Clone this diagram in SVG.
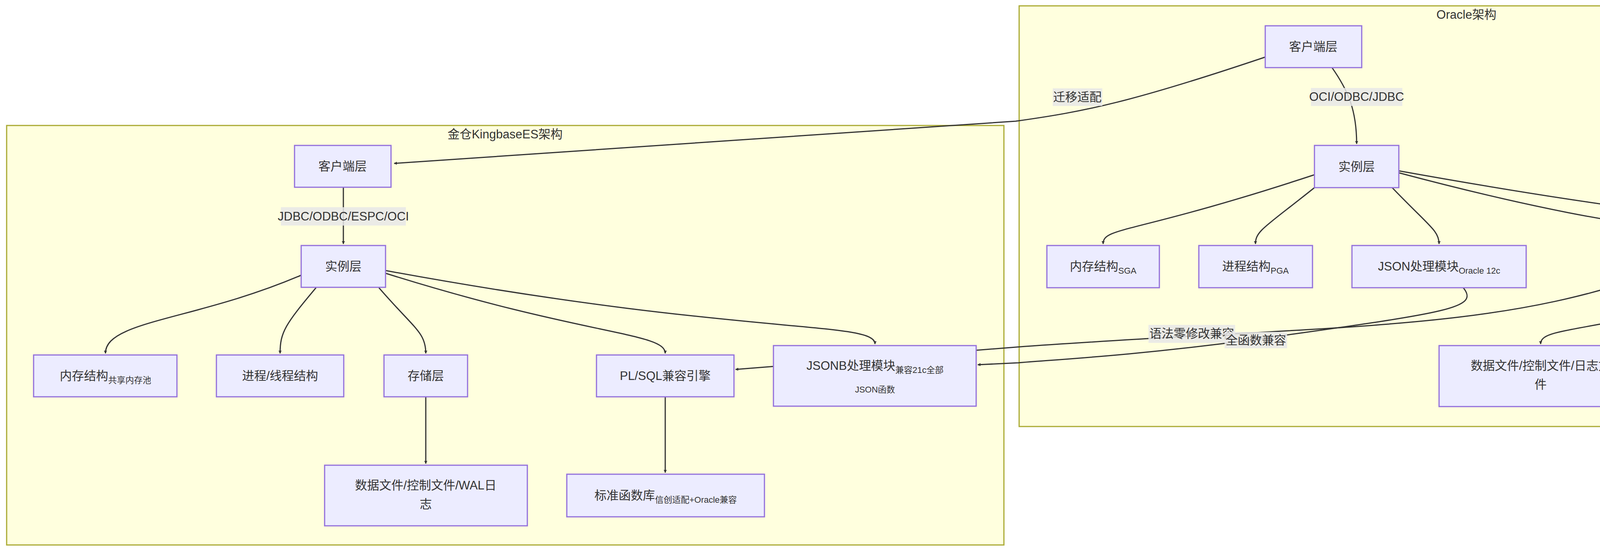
<svg xmlns="http://www.w3.org/2000/svg" width="4919" height="1412" viewBox="0 0 4919 1412">
<style>
text{font-family:"Liberation Sans","Noto Sans CJK SC",sans-serif;fill:#333}
.cl{fill:#ffffde;stroke:#aaaa33;stroke-width:3}
.nd{fill:#ECECFF;stroke:#9370DB;stroke-width:3}
.t{font-size:31px;text-anchor:middle}
.s{font-size:22px}
.ct{font-size:31px;text-anchor:middle}
.e{fill:none;stroke:#333;stroke-width:3}
.lb{fill:#e8e8e8;opacity:0.85}
</style>
<defs>
<marker id="ar" viewBox="0 0 10 10" refX="9" refY="5" markerWidth="8" markerHeight="8" markerUnits="userSpaceOnUse" orient="auto"><path d="M0,0L10,5L0,10z" fill="#333"/></marker>
<clipPath id="c1"><rect x="86" y="908" width="367" height="107"/></clipPath>
<clipPath id="c2"><rect x="1451" y="1213" width="506" height="109"/></clipPath>
<clipPath id="c3"><rect x="4302" y="908" width="401" height="108"/></clipPath>
</defs>
<rect width="4919" height="1412" fill="#fff"/>
<g id="clusterK"><rect class="cl" x="17" y="321" width="2553" height="1073"/><text class="ct" x="1293" y="354">金仓KingbaseES架构</text></g>
<g id="clusterO"><rect class="cl" x="2609" y="15" width="2294" height="1076"/><text class="ct" x="3754" y="48">Oracle架构</text></g>
<g id="edges">
<path class="e" marker-end="url(#ar)" d="M3239,146 C2900,260 2780,285 2600,310 L1009,418"/>
<path class="e" marker-end="url(#ar)" d="M3410,173 C3450,230 3473,280 3473,368"/>
<path class="e" marker-end="url(#ar)" d="M879,479 L879,624"/>
<path class="e" marker-end="url(#ar)" d="M771,704 C500,820 270,820 270,904"/>
<path class="e" marker-end="url(#ar)" d="M809,736 C730,830 717,850 717,904"/>
<path class="e" marker-end="url(#ar)" d="M970,736 C1060,840 1090,850 1090,904"/>
<path class="e" marker-end="url(#ar)" d="M987,699 C1500,860 1703,850 1703,904"/>
<path class="e" marker-end="url(#ar)" d="M987,692 C1900,860 2240,820 2240,880"/>
<path class="e" marker-end="url(#ar)" d="M1090,1015 L1090,1186"/>
<path class="e" marker-end="url(#ar)" d="M1703,1015 L1703,1209"/>
<path class="e" marker-end="url(#ar)" d="M3365,447 C2900,600 2824,580 2824,624"/>
<path class="e" marker-end="url(#ar)" d="M3365,480 C3240,580 3214,590 3214,624"/>
<path class="e" marker-end="url(#ar)" d="M3564,480 C3660,580 3684,590 3684,624"/>
<path class="e" marker-end="url(#ar)" d="M3581,442 C4250,620 4358,570 4358,624"/>
<path class="e" marker-end="url(#ar)" d="M3581,437 C4600,620 4710,560 4710,624"/>
<path class="e" marker-end="url(#ar)" d="M4603,700 C4100,860 3944,830 3944,880"/>
<path class="e" marker-end="url(#ar)" d="M4419,736 C4490,850 4502,860 4502,904"/>
<path class="e" marker-end="url(#ar)" d="M4213,706 C3800,850 3400,830 2600,888 L1883,945"/>
<path class="e" marker-end="url(#ar)" d="M3746,736 C3790,790 3700,800 3200,870 C2900,910 2700,920 2607,928 L2503,933"/>
<rect class="lb" x="2695" y="226" width="127" height="45"/><text class="t" x="2758" y="259">迁移适配</text>
<rect class="lb" x="3356" y="225" width="234" height="46"/><text class="t" x="3473" y="258">OCI/ODBC/JDBC</text>
<rect class="lb" x="719" y="530" width="320" height="47"/><text class="t" x="879" y="564">JDBC/ODBC/ESPC/OCI</text>
<rect class="lb" x="2940" y="831" width="222" height="46"/><text class="t" x="3051" y="864">语法零修改兼容</text>
<rect class="lb" x="3135" y="849" width="160" height="42"/><text class="t" x="3215" y="881">全函数兼容</text>
</g>
<g id="kClient"><rect class="nd" x="754" y="372" width="247" height="107"/><text class="t" x="877" y="436">客户端层</text></g>
<g id="kInst"><rect class="nd" x="771" y="628" width="216" height="107"/><text class="t" x="879" y="692">实例层</text></g>
<g id="kMem"><rect class="nd" x="86" y="908" width="367" height="107"/><text class="t" x="270" y="972" clip-path="url(#c1)">内存结构<tspan class="s" dy="8">共享内存池</tspan></text></g>
<g id="kProc"><rect class="nd" x="554" y="908" width="326" height="107"/><text class="t" x="717" y="972">进程/线程结构</text></g>
<g id="kStore"><rect class="nd" x="983" y="908" width="214" height="107"/><text class="t" x="1090" y="972">存储层</text></g>
<g id="kPlsql"><rect class="nd" x="1527" y="908" width="352" height="107"/><text class="t" x="1703" y="972">PL/SQL兼容引擎</text></g>
<g id="kJsonb"><rect class="nd" x="1980" y="884" width="519" height="155"/><text class="t" x="2240" y="946">JSONB处理模块<tspan class="s" dy="8">兼容21c全部</tspan></text><text class="s" x="2240" y="1004" text-anchor="middle">JSON函数</text></g>
<g id="kData"><rect class="nd" x="831" y="1190" width="519" height="155"/><text class="t" x="1090" y="1252">数据文件/控制文件/WAL日</text><text class="t" x="1090" y="1300">志</text></g>
<g id="kLib"><rect class="nd" x="1451" y="1213" width="506" height="109"/><text class="t" x="1704" y="1278" clip-path="url(#c2)">标准函数库<tspan class="s" dy="8">信创适配+Oracle兼容</tspan></text></g>
<g id="oClient"><rect class="nd" x="3239" y="66" width="247" height="107"/><text class="t" x="3362" y="130">客户端层</text></g>
<g id="oInst"><rect class="nd" x="3365" y="372" width="216" height="108"/><text class="t" x="3473" y="437">实例层</text></g>
<g id="oSga"><rect class="nd" x="2680" y="628" width="288" height="108"/><text class="t" x="2824" y="692">内存结构<tspan class="s" dy="8">SGA</tspan></text></g>
<g id="oPga"><rect class="nd" x="3069" y="628" width="291" height="108"/><text class="t" x="3214" y="692">进程结构<tspan class="s" dy="8">PGA</tspan></text></g>
<g id="oJson"><rect class="nd" x="3461" y="628" width="446" height="108"/><text class="t" x="3684" y="692">JSON处理模块<tspan class="s" dy="8">Oracle 12c</tspan></text></g>
<g id="oPlsql"><rect class="nd" x="4214" y="628" width="288" height="108"/><text class="t" x="4358" y="692">PL/SQL引擎</text></g>
<g id="oStore"><rect class="nd" x="4603" y="628" width="215" height="108"/><text class="t" x="4710" y="692">存储层</text></g>
<g id="oData"><rect class="nd" x="3684" y="884" width="519" height="156"/><text class="t" x="3944" y="946">数据文件/控制文件/日志文</text><text class="t" x="3944" y="994">件</text></g>
<g id="oLib"><rect class="nd" x="4302" y="908" width="401" height="108"/><text class="t" x="4500" y="972" clip-path="url(#c3)">内置函数库<tspan class="s" dy="8">含私有函数</tspan></text></g>
<text x="4704" y="1372" font-size="26" text-anchor="middle" style="fill:#888">掘金技术社区 @ 云边有个稻草人</text>
</svg>
